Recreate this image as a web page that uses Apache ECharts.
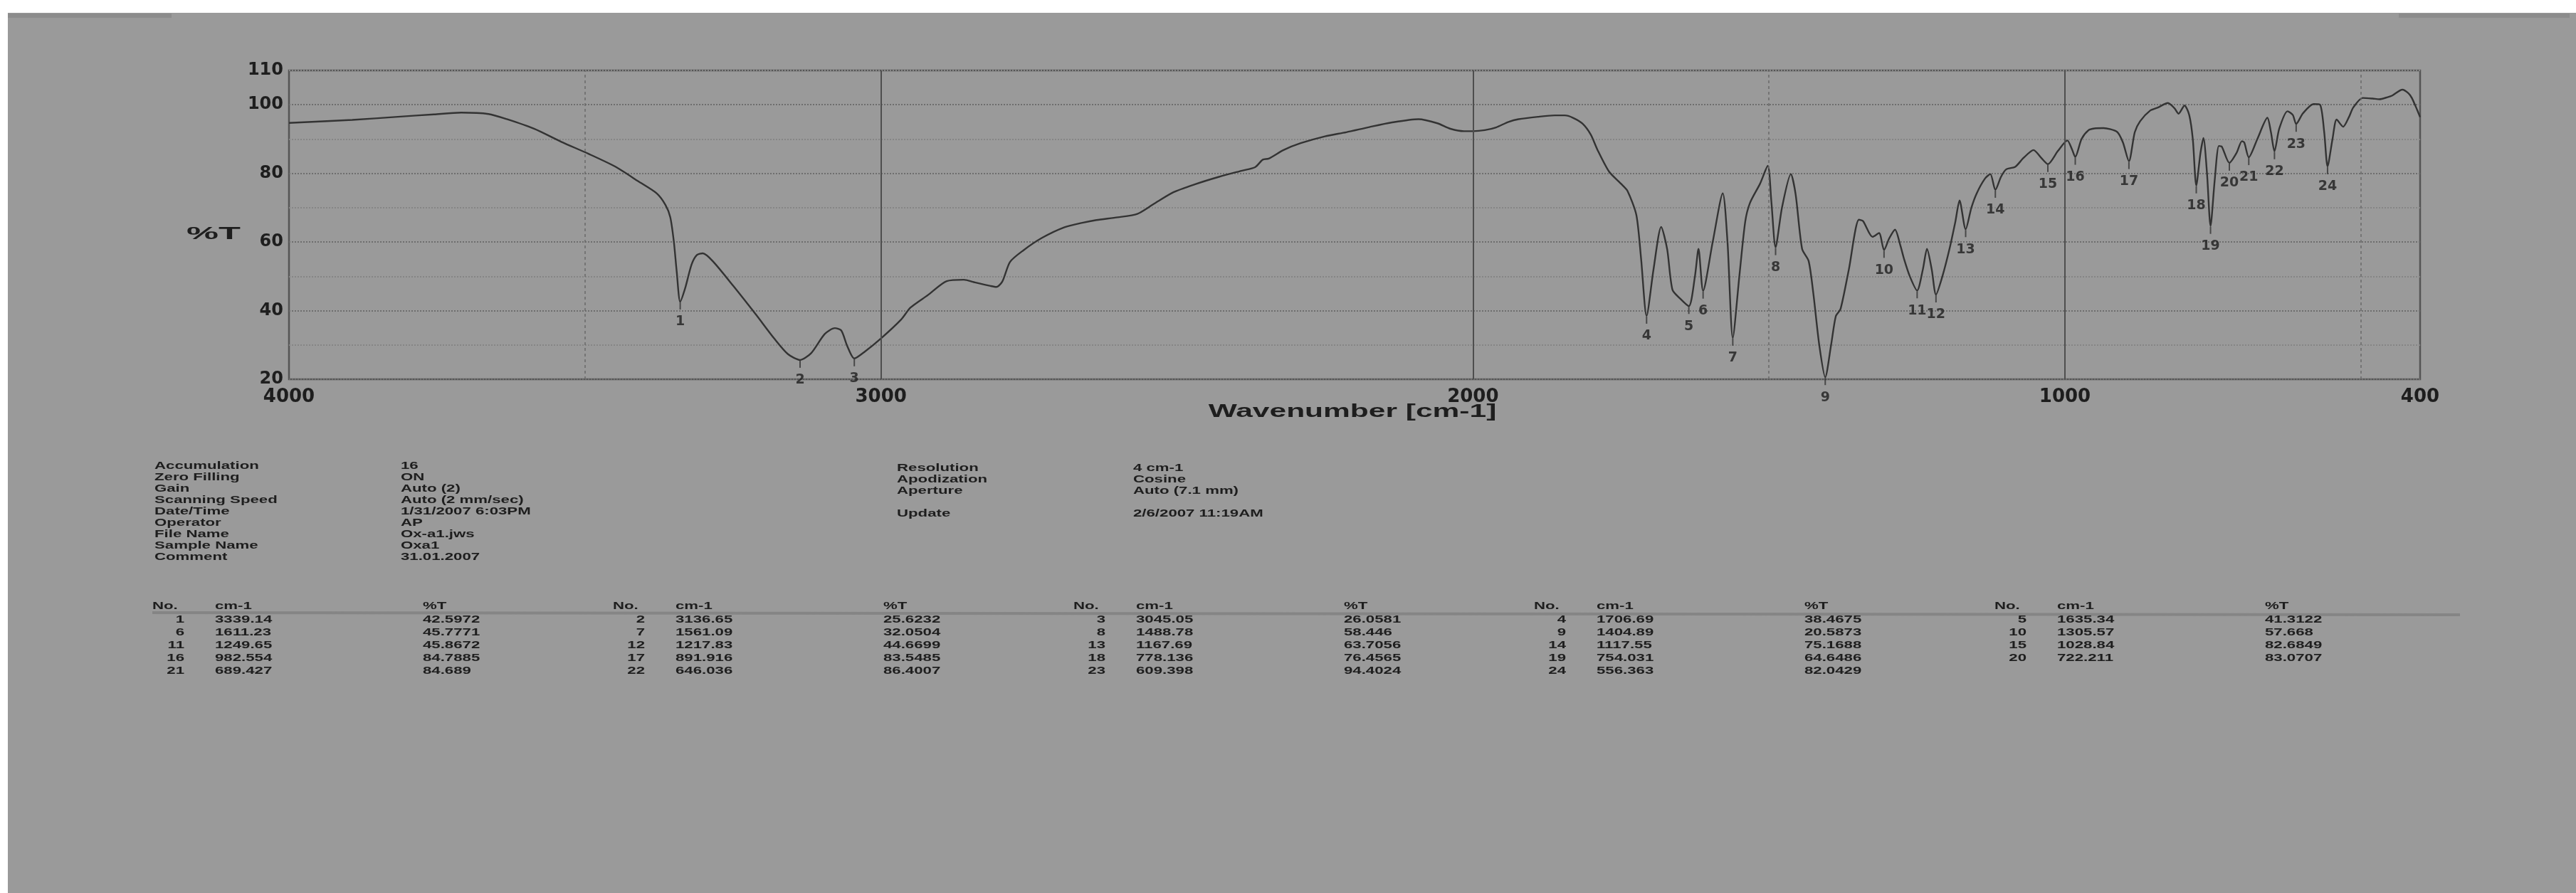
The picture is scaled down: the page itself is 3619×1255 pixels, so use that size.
<!DOCTYPE html>
<html>
<head>
<meta charset="utf-8">
<title>IR spectrum</title>
<script src="https://cdn.jsdelivr.net/npm/echarts@6/dist/echarts.min.js"></script>
<style>
  html, body { margin: 0; padding: 0; background: #ffffff; }
  #chart { width: 3619px; height: 1255px; }
</style>
</head>
<body>
<div id="chart"></div>
<script>
// spectrum trace (cm-1 / %T)
var traceCm = [4000, 3893, 3816, 3755, 3709, 3663, 3632, 3586, 3540, 3494, 3448, 3410, 3379, 3364, 3356, 3350, 3345,
  3339.14, 3331, 3320, 3311, 3301, 3284, 3249, 3211, 3180, 3157, 3136.65, 3118, 3095, 3078, 3067, 3057, 3045.05,
  3027, 3000, 2966, 2950, 2921, 2889, 2860, 2843, 2815, 2805, 2795, 2782, 2760, 2728, 2690, 2660, 2636, 2600,
  2567, 2540, 2506, 2470, 2429, 2390, 2368, 2355, 2345, 2320, 2291, 2250, 2214, 2175, 2138, 2092, 2060, 2038,
  2015, 2000, 1980, 1961, 1940, 1923, 1890, 1862, 1845, 1831, 1815, 1801, 1790, 1770, 1750, 1739, 1724, 1716,
  1706.69, 1695, 1682, 1672, 1663, 1650, 1635.34, 1625, 1619, 1611.23, 1595, 1578, 1570, 1561.09, 1550, 1540,
  1532, 1515, 1502, 1496, 1488.78, 1478, 1463, 1455, 1444, 1433, 1425, 1415, 1404.89, 1395, 1387, 1379, 1365,
  1348, 1341, 1325, 1314, 1305.57, 1297, 1287, 1278, 1272, 1262, 1249.65, 1240, 1233, 1225, 1217.83, 1207,
  1195, 1185, 1178, 1167.69, 1158, 1149, 1135, 1126, 1117.55, 1108, 1099, 1084, 1070, 1053, 1040, 1028.84,
  1012, 996, 988, 982.554, 972, 960, 950, 935, 912, 902, 891.916, 882, 873, 856, 843, 826, 815, 808, 798, 790,
  784, 778.136, 771, 766, 760, 754.031, 747, 740, 735, 722.211, 710, 701, 697, 689.427, 675, 658, 652, 646.036,
  638, 624, 615, 609.398, 598, 580, 569, 562, 556.363, 548, 541, 530, 520, 513, 497, 480, 469, 455, 447, 430,
  420, 414, 405, 400]
var traceT = [94.7, 95.6, 96.5, 97.2, 97.7, 97.3, 95.8, 93.0, 89.2, 85.7, 81.9, 77.7, 74.2, 70.8, 67.3, 60.3, 51.3,
  42.5972, 46.4, 53.4, 56.2, 56.7, 54.4, 47.1, 38.8, 31.8, 27.3, 25.6232, 27.6, 33.2, 34.9, 34.2, 29.7, 26.0581,
  28.1, 31.9, 37.4, 40.9, 44.5, 48.6, 49.0, 48.3, 47.2, 46.9, 48.5, 54.2, 57.5, 61.2, 64.3, 65.6, 66.4, 67.2,
  68.2, 71.0, 74.5, 76.8, 79.0, 80.8, 81.8, 84.0, 84.3, 86.8, 88.8, 90.8, 92.0, 93.5, 94.8, 95.8, 94.6, 93.0,
  92.3, 92.3, 92.6, 93.4, 95.0, 95.8, 96.5, 96.9, 96.9, 96.2, 94.5, 91.3, 87.0, 80.5, 77.0, 74.9, 67.9, 55.2,
  38.4675, 52.0, 64.4, 58.0, 46.1, 43.5, 41.3122, 50.0, 58.0, 45.7771, 60.0, 74.2, 60.0, 32.0504, 50.0, 66.0,
  71.4, 77.0, 82.2, 72.0, 58.446, 70.0, 79.8, 74.0, 58.0, 54.5, 45.0, 30.0, 20.5873, 30.0, 38.4, 40.5, 52.0,
  66.5, 66.1, 61.5, 62.6, 57.668, 61.0, 63.6, 59.0, 55.2, 50.0, 45.8672, 52.0, 58.0, 52.0, 44.6699, 50.0,
  58.0, 66.0, 72.1, 63.7056, 70.0, 74.2, 78.5, 79.8, 75.1688, 79.0, 81.2, 81.9, 84.5, 86.8, 84.5, 82.6849,
  86.5, 89.6, 87.0, 84.7885, 90.0, 92.6, 93.1, 93.2, 92.1, 89.0, 83.5485, 92.0, 95.2, 98.3, 99.2, 100.5, 99.0, 97.4, 99.8, 97.0,
  90.0, 76.4565, 86.0, 90.3, 80.0, 64.6486, 78.0, 88.0, 87.8, 83.0707, 86.0, 89.4, 89.0, 84.689, 90.0, 96.2, 92.0, 86.4007,
  93.0, 98.1, 97.0, 94.4024, 97.5, 100.2, 100.0, 92.0, 82.0429, 90.0, 95.7, 93.6, 96.5, 99.2, 102.0, 101.8, 101.6, 102.2, 102.7, 104.4,
  103.4, 102.0, 98.5, 96.4]

// peak table
var peakNo = [1, 2, 3, 4, 5, 6, 7, 8, 9, 10, 11, 12, 13, 14, 15, 16, 17, 18, 19, 20, 21, 22, 23, 24]
var peakCm = ['3339.14', '3136.65', '3045.05', '1706.69', '1635.34', '1611.23', '1561.09', '1488.78', '1404.89', '1305.57',
  '1249.65', '1217.83', '1167.69', '1117.55', '1028.84', '982.554', '891.916', '778.136', '754.031', '722.211',
  '689.427', '646.036', '609.398', '556.363']
var peakT = ['42.5972', '25.6232', '26.0581', '38.4675', '41.3122', '45.7771', '32.0504', '58.446', '20.5873', '57.668',
  '45.8672', '44.6699', '63.7056', '75.1688', '82.6849', '84.7885', '83.5485', '76.4565', '64.6486', '83.0707',
  '84.689', '86.4007', '94.4024', '82.0429']

// axis ticks
var xTickLabels = [4000, 3000, 2000, 1000, 400]
var yTickLabels = [110, 100, 80, 60, 40, 20]
var solidLines = [3000, 2000, 1000]
var dashedLines = [3500, 1500, 500]

// measurement info
var infoLabels = ['Accumulation', 'Zero Filling', 'Gain', 'Scanning Speed', 'Date/Time', 'Operator', 'File Name', 'Sample Name', 'Comment']
var infoValues = ['16', 'ON', 'Auto (2)', 'Auto (2 mm/sec)', '1/31/2007 6:03PM', 'AP', 'Ox-a1.jws', 'Oxa1', '31.01.2007']
var infoLabels2 = ['Resolution', 'Apodization', 'Aperture', '', 'Update']
var infoValues2 = ['4 cm-1', 'Cosine', 'Auto (7.1 mm)', '', '2/6/2007 11:19AM']

var chart = echarts.init(document.getElementById('chart'))

var ink = '#1e1e1e'
var stretch = 1.48
var smallFont = 'bold 15px "Liberation Sans", Arial, sans-serif'

var graphics = [
  // the grey scan area
  { type: 'rect', z: -10, silent: true, shape: { x: 11, y: 18, width: 3608, height: 1237 }, style: { fill: '#9a9a9a' } },
  { type: 'rect', z: -9, silent: true, shape: { x: 11, y: 19, width: 230, height: 6 }, style: { fill: '#8c8c8c' } },
  { type: 'rect', z: -9, silent: true, shape: { x: 3370, y: 19, width: 240, height: 6 }, style: { fill: '#8c8c8c' } },
  {
    type: 'text', x: 1900, y: 579, scaleX: 1.7,
    style: { text: 'Wavenumber [cm-1]', font: 'bold 25px "Liberation Sans", Arial, sans-serif', fill: ink, align: 'center', verticalAlign: 'middle' }
  },
  {
    type: 'text', x: 262, y: 330, scaleX: 2.2,
    style: { text: '%T', font: 'bold 23px "Liberation Sans", Arial, sans-serif', fill: ink, align: 'left', verticalAlign: 'middle' }
  }
]

// info block
infoLabels.forEach(function (t, i) {
  var y = 655 + i * 16
  graphics.push({ type: 'text', x: 217, y: y, scaleX: stretch, style: { text: t, font: smallFont, fill: ink, verticalAlign: 'middle' } })
  graphics.push({ type: 'text', x: 563, y: y, scaleX: stretch, style: { text: infoValues[i], font: smallFont, fill: ink, verticalAlign: 'middle' } })
})
infoLabels2.forEach(function (t, i) {
  if (!t) return
  var y = 658 + i * 16
  graphics.push({ type: 'text', x: 1260, y: y, scaleX: stretch, style: { text: t, font: smallFont, fill: ink, verticalAlign: 'middle' } })
  graphics.push({ type: 'text', x: 1592, y: y, scaleX: stretch, style: { text: infoValues2[i], font: smallFont, fill: ink, verticalAlign: 'middle' } })
})

// peak table, 5 column groups
var groupStep = 647
for (var g = 0; g < 5; g++) {
  var gx = 214 + g * groupStep
  graphics.push({ type: 'text', x: gx, y: 852, scaleX: stretch, style: { text: 'No.', font: smallFont, fill: ink, verticalAlign: 'middle' } })
  graphics.push({ type: 'text', x: gx + 88, y: 852, scaleX: stretch, style: { text: 'cm-1', font: smallFont, fill: ink, verticalAlign: 'middle' } })
  graphics.push({ type: 'text', x: gx + 380, y: 852, scaleX: stretch, style: { text: '%T', font: smallFont, fill: ink, verticalAlign: 'middle' } })
}
graphics.push({ type: 'line', silent: true, shape: { x1: 214, y1: 861, x2: 3456, y2: 864 }, style: { stroke: '#858585', lineWidth: 4 } })
peakNo.forEach(function (n, i) {
  var g = i % 5
  var r = Math.floor(i / 5)
  var gx = 214 + g * groupStep
  var y = 871 + r * 18
  graphics.push({ type: 'text', x: gx + 45, y: y, scaleX: stretch, style: { text: String(n), font: smallFont, fill: ink, align: 'right', verticalAlign: 'middle' } })
  graphics.push({ type: 'text', x: gx + 88, y: y, scaleX: stretch, style: { text: peakCm[i], font: smallFont, fill: ink, verticalAlign: 'middle' } })
  graphics.push({ type: 'text', x: gx + 380, y: y, scaleX: stretch, style: { text: peakT[i], font: smallFont, fill: ink, verticalAlign: 'middle' } })
})

var traceData = traceCm.map(function (c, i) { return [c, traceT[i]] })
var peakData = peakNo.map(function (n, i) { return { value: [Number(peakCm[i]), Number(peakT[i])], name: String(n) } })

var markLines = solidLines.map(function (v) {
  return { xAxis: v, lineStyle: { type: 'solid', color: '#4e4e4e', width: 2 } }
}).concat(dashedLines.map(function (v) {
  return { xAxis: v, lineStyle: { type: [4, 4], color: '#6a6a6a', width: 1.5 } }
}))

var option = {
  animation: false,
  backgroundColor: 'transparent',
  graphic: graphics,
  grid: {
    left: 406, right: 219, top: 99, bottom: 722,
    show: true, borderColor: '#555555', borderWidth: 2.5, backgroundColor: 'transparent'
  },
  xAxis: {
    type: 'value', inverse: true, min: 400, max: 4000, interval: 100,
    axisLine: { show: false }, axisTick: { show: false }, splitLine: { show: false },
    axisLabel: {
      margin: 12, color: ink, fontSize: 26, fontWeight: 'bold', fontFamily: 'DejaVu Sans',
      formatter: function (v) { return xTickLabels.indexOf(v) >= 0 ? String(v) : '' }
    }
  },
  yAxis: {
    type: 'value', min: 20, max: 110, interval: 10,
    axisLine: { show: false }, axisTick: { show: false },
    splitLine: { show: true, lineStyle: { type: 'dotted', width: 2, color: ['#6e6e6e', '#858585'] } },
    axisLabel: {
      margin: 8, color: ink, fontSize: 24, fontWeight: 'bold', fontFamily: 'DejaVu Sans',
      formatter: function (v) { return yTickLabels.indexOf(v) >= 0 ? String(v) : '' }
    }
  },
  series: [
    {
      type: 'line', data: traceData, showSymbol: false, smooth: 0.25,
      lineStyle: { color: '#333333', width: 2.4 },
      markLine: { silent: true, symbol: 'none', label: { show: false }, data: markLines }
    },
    {
      type: 'scatter', data: peakData, symbol: 'rect', symbolSize: [2, 10], symbolOffset: [0, 6],
      itemStyle: { color: '#333333' },
      label: {
        show: true, position: 'bottom', distance: 8, formatter: '{b}',
        color: ink, fontSize: 19, fontWeight: 'bold', fontFamily: 'DejaVu Sans'
      }
    }
  ]
}

chart.setOption(option)
</script>
</body>
</html>
